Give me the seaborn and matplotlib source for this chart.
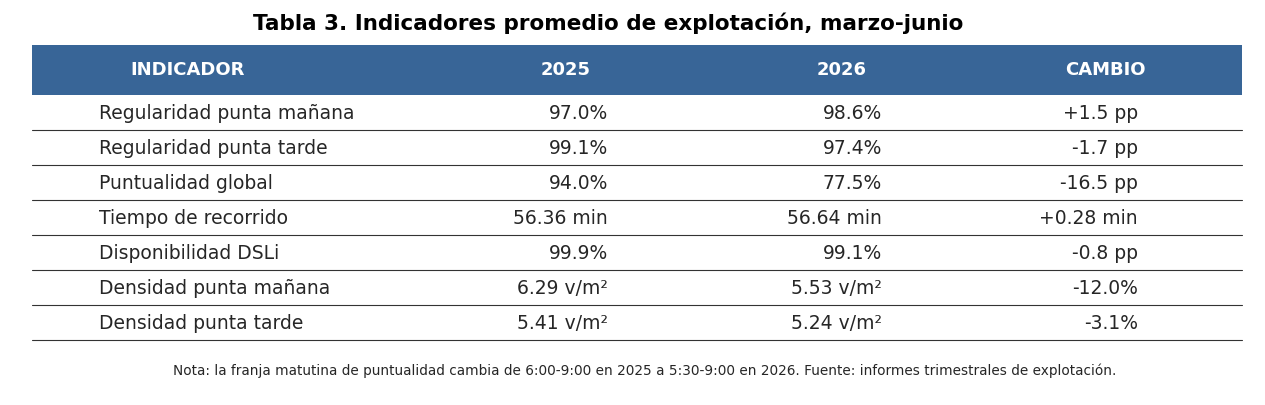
import pandas as pd
import seaborn as sns
import matplotlib.pyplot as plt


def build_table():
    df = pd.DataFrame({
        'INDICADOR': ['Regularidad punta mañana', 'Regularidad punta tarde', 'Puntualidad global',
                      'Tiempo de recorrido', 'Disponibilidad DSLi', 'Densidad punta mañana',
                      'Densidad punta tarde'],
        '2025': ['97.0%', '99.1%', '94.0%', '56.36 min', '99.9%', '6.29 v/m²', '5.41 v/m²'],
        '2026': ['98.6%', '97.4%', '77.5%', '56.64 min', '99.1%', '5.53 v/m²', '5.24 v/m²'],
        'CAMBIO': ['+1.5 pp', '-1.7 pp', '-16.5 pp', '+0.28 min', '-0.8 pp', '-12.0%', '-3.1%'],
    })
    return df


def draw_table(df, filename):
    fig, ax = plt.subplots(figsize=(12.65, 4.05), dpi=100)
    fig.subplots_adjust(left=0, right=1, top=1, bottom=0)
    ax.set_xlim(0, 1265)
    ax.set_ylim(405, 0)
    ax.axis('off')

    blue = '#386597'
    ax.text(608, 23, 'Tabla 3. Indicadores promedio de explotación, marzo-junio',
            ha='center', va='center', fontsize=15.5, fontweight='bold', color='black')

    # Header band
    ax.add_patch(plt.Rectangle((32, 45), 1210, 50, color=blue, lw=0))
    header_x = {'INDICADOR': 188, '2025': 566, '2026': 842, 'CAMBIO': 1105}
    for col, x in header_x.items():
        ax.text(x, 70, col, ha='center', va='center', color='white',
                fontsize=13, fontweight='bold')

    # Body rows
    row_h = 35
    value_x = {'2025': 608, '2026': 882, 'CAMBIO': 1138}
    for i, row in df.iterrows():
        yc = 95 + row_h * i + row_h / 2 + 1
        ax.text(99, yc, row['INDICADOR'], ha='left', va='center', fontsize=13.5)
        for col, x in value_x.items():
            ax.text(x, yc, row[col], ha='right', va='center', fontsize=13.5)
        ax.plot([32, 1242], [95 + row_h * (i + 1)] * 2, color='#333333', lw=0.8)

    ax.text(645, 371, 'Nota: la franja matutina de puntualidad cambia de 6:00-9:00 en 2025 a '
            '5:30-9:00 en 2026. Fuente: informes trimestrales de explotación.',
            ha='center', va='center', fontsize=9.8)

    plt.savefig(filename, dpi=100)


if __name__ == '__main__':
    sns.set_theme(style='white')
    plt.rcParams['font.family'] = ['DejaVu Sans']
    table = build_table()
    draw_table(table, 'out.png')
